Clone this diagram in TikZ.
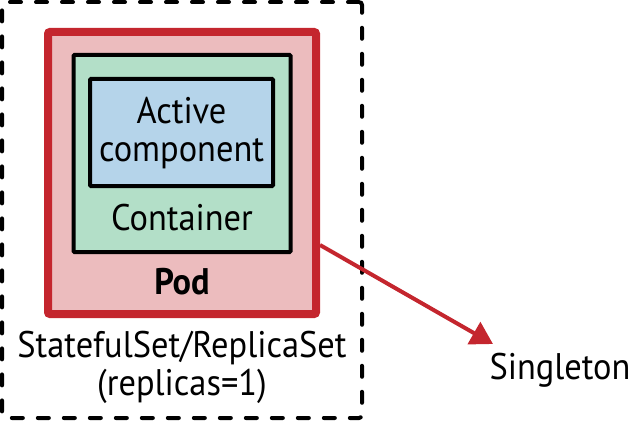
\documentclass[tikz,border=0pt]{standalone}
\usepackage{fontspec}
\setmainfont{PT Sans}[FakeStretch=0.93]
\usetikzlibrary{arrows.meta}
\definecolor{podred}{HTML}{C4262E}
\definecolor{podfill}{HTML}{ECBCBE}
\definecolor{contfill}{HTML}{B3DFC8}
\definecolor{actfill}{HTML}{B5D4EA}
\tikzset{
  lbl/.style={font=\fontsize{37}{38.5}\selectfont, align=center, inner sep=0pt},
  podbox/.style={draw=podred, fill=podfill, line width=8pt, rounded corners=2pt},
  contbox/.style={draw=black, fill=contfill, line width=4pt, rounded corners=1pt},
  actbox/.style={draw=black, fill=actfill, line width=4pt, rounded corners=1pt},
  setbox/.style={draw=black, line width=4pt, dash pattern=on 11pt off 15pt, line cap=round, rounded corners=3pt},
  link/.style={draw=podred, line width=4pt, -{Triangle[length=22pt,width=25pt]}}
}
\begin{document}
\begin{tikzpicture}[x=1pt,y=-1pt]
\useasboundingbox (0,0) rectangle (631,422);
\node[setbox, minimum width=360pt, minimum height=416pt, inner sep=0pt] (set) at (182,210) {};
\node[podbox, minimum width=268pt, minimum height=282pt, inner sep=0pt] (pod) at (182,173) {};
\node[contbox, minimum width=217pt, minimum height=197pt, inner sep=0pt] (cont) at (182,153.5) {};
\node[actbox, minimum width=183pt, minimum height=107pt, inner sep=0pt] (act) at (181.5,132.5) {};
\node[lbl] (acttxt) at (181.5,133) {Active\\component};
\node[lbl] (conttxt) at (182,218) {Container};
\node[lbl, font=\fontsize{37}{38.5}\selectfont\bfseries] (podtxt) at (182,282) {Pod};
\node[lbl] (settxt) at (182,367.5) {StatefulSet/ReplicaSet\\(replicas=1)};
\node[lbl] (single) at (560,370) {Singleton};
\coordinate (tip) at (493,344);
\draw[link] ([yshift=-72pt]pod.east) -- (tip);
\end{tikzpicture}
\end{document}
